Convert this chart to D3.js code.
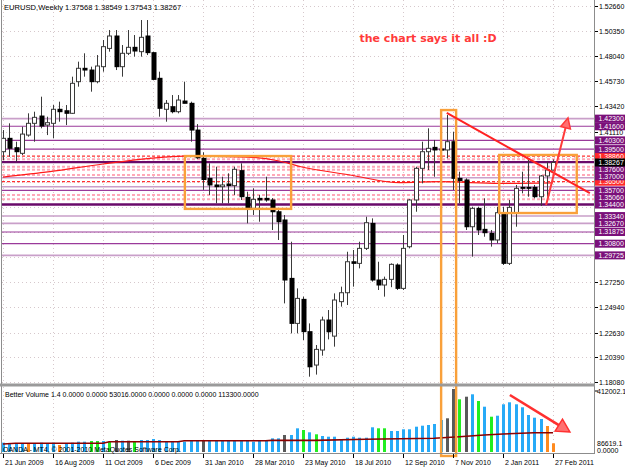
<!DOCTYPE html>
<html><head><meta charset="utf-8">
<script src="https://cdn.jsdelivr.net/npm/d3@7"></script>
<style>
body{margin:0;background:#fff}
svg{display:block}
text{font-family:"Liberation Sans",Arial,sans-serif}
</style>
</head><body>
<svg id="c" width="625" height="469"></svg>
<script>
// ---------------- DATA ----------------
const titleText = "EURUSD,Weekly  1.37568 1.38549 1.37543 1.38267";
const volTitle = "Better Volume 1.4 0.0000 0.0000 53016.0000 0.0000 0.0000 0.0000 113300.0000";
const copyright = "OANDA - MT4, \u00a9 2001-2010 MetaQuotes Software Corp.";
const noteText = "the chart says it all :D";

const open  = [1.3926,1.4049,1.3963,1.3911,1.4079,1.4187,1.4254,1.4171,1.4187,1.4316,
               1.4303,1.4279,1.4570,1.4693,1.4677,1.4570,1.4708,1.4876,1.4990,1.4708,
               1.4831,1.4886,1.4846,1.4990,1.4837,1.4601,1.4316,1.4340,1.4294,1.4392,
               1.4371,1.4125,1.3865,1.3681,1.3620,1.3604,1.3629,1.3614,1.3752,1.3506,
               1.3405,1.3497,1.3497,1.3482,1.3374,1.3298,1.2761,1.2347,1.2568,1.2271,
               1.1964,1.2102,1.2378,1.2230,1.2547,1.2629,1.2914,1.2899,1.3037,1.3267,
               1.2746,1.2700,1.2752,1.2884,1.2669,1.3052,1.3482,1.3773,1.3926,1.3966,
               1.3950,1.3942,1.4018,1.3681,1.3666,1.3236,1.3405,1.3212,1.3175,1.3114,
               1.3359,1.2899,1.3359,1.3598,1.3598,1.3598,1.3512,1.3703,1.37568];
const high  = [1.4125,1.4187,1.4018,1.4156,1.4279,1.4294,1.4432,1.4248,1.4355,1.4386,
               1.4355,1.4616,1.4754,1.4831,1.4708,1.4815,1.4953,1.5045,1.5045,1.4907,
               1.5045,1.4999,1.5137,1.5137,1.4846,1.4662,1.4401,1.4447,1.4447,1.4570,
               1.4386,1.4180,1.3920,1.3819,1.3788,1.3696,1.3727,1.3788,1.3819,1.3558,
               1.3589,1.3528,1.3696,1.3500,1.3390,1.3344,1.3098,1.2669,1.2593,1.2347,
               1.2148,1.2409,1.2470,1.2623,1.2685,1.3006,1.3022,1.3098,1.3328,1.3313,
               1.2914,1.2777,1.2899,1.2899,1.3160,1.3490,1.3788,1.4018,1.4141,1.4034,
               1.4030,1.4264,1.4110,1.3742,1.3681,1.3420,1.3420,1.3497,1.3206,1.3420,
               1.3420,1.3482,1.3620,1.3742,1.3850,1.3620,1.3712,1.3834,1.38549];
const low   = [1.3849,1.3880,1.3834,1.3895,1.4064,1.4018,1.4141,1.4079,1.4049,1.4202,
               1.4171,1.4273,1.4524,1.4616,1.4478,1.4555,1.4662,1.4846,1.4677,1.4616,
               1.4815,1.4800,1.4800,1.4815,1.4585,1.4248,1.4202,1.4279,1.4279,1.4371,
               1.4018,1.3860,1.3575,1.3528,1.3451,1.3451,1.3451,1.3528,1.3482,1.3267,
               1.3344,1.3282,1.3466,1.3206,1.3114,1.2531,1.2255,1.2255,1.2194,1.1857,
               1.1876,1.2050,1.2200,1.2133,1.2501,1.2516,1.2685,1.2853,1.3022,1.2731,
               1.2654,1.2593,1.2680,1.2654,1.2654,1.3037,1.3374,1.3635,1.3758,1.3696,
               1.3730,1.3865,1.3574,1.3451,1.3206,1.2961,1.3160,1.3144,1.3053,1.3083,
               1.2884,1.2884,1.3236,1.3543,1.3512,1.3497,1.3427,1.3512,1.37543];
const close = [1.4049,1.3957,1.3926,1.4088,1.4187,1.4242,1.4162,1.4193,1.4316,1.4294,
               1.4279,1.4555,1.4693,1.4677,1.4570,1.4714,1.4892,1.4990,1.4708,1.4831,
               1.4886,1.4852,1.4978,1.4837,1.4591,1.4325,1.4371,1.4294,1.4401,1.4371,
               1.4125,1.3870,1.3670,1.3620,1.3604,1.3620,1.3614,1.3764,1.3512,1.3405,
               1.3488,1.3482,1.3482,1.3374,1.3282,1.2746,1.2347,1.2577,1.2271,1.1948,
               1.2108,1.2378,1.2270,1.2562,1.2629,1.2914,1.2899,1.3037,1.3273,1.2746,
               1.2700,1.2752,1.2890,1.2669,1.3037,1.3482,1.3773,1.3926,1.3957,1.3942,
               1.3940,1.4018,1.3681,1.3660,1.3236,1.3405,1.3206,1.3181,1.3114,1.3365,
               1.2899,1.3414,1.3589,1.3589,1.3590,1.3512,1.3703,1.3758,1.38267];

const volume = [61040,52320,56680,56680,52320,56680,61040,56680,61040,45780,
                52320,61040,67580,67580,71940,71940,71940,67580,78480,74120,
                74120,71940,78480,78480,85000,78480,71940,67580,71940,67580,
                74120,74120,74120,74120,78480,74120,78480,74120,74120,74120,
                67580,74120,78480,89400,89400,111180,111180,154800,143880,128800,
                115760,104640,100060,100060,78480,93520,100060,93520,93520,161540,
                155000,155000,137340,137340,148460,148460,165460,172000,176580,183120,
                209280,220400,412000,344660,361660,377360,333540,296260,230860,237400,
                311960,325040,311960,292340,241980,224320,215820,170040,56900];
// b = normal (blue), g = green, k = churn (gray), o = low (orange)
const volType = ["b","b","b","b","o","b","b","b","b","o",
                 "b","b","b","b","g","g","b","g","k","b",
                 "k","g","b","b","b","b","b","b","b","b",
                 "b","b","k","b","b","b","b","b","b","b",
                 "b","b","b","b","b","k","b","b","g","b",
                 "g","b","b","b","b","b","b","b","b","b",
                 "g","g","b","b","b","b","b","b","b","b",
                 "b","k","k","g","k","b","g","b","g","b",
                 "b","b","b","b","b","b","b","o","o"];
const volMAIdx = [0,2,16,17,28,29,42,43,50,58,69,73,77,80,85,88];
const volMAVal = [52320,56900,56900,67360,67360,73900,73900,76000,76000,83060,89600,100060,111180,117720,126220,126220];

const maIdx = [0,7.5,16,23.5,29,39,44,47.5,55.5,63.5,70,79.5,88];
const maVal = [1.3693,1.3742,1.3813,1.3865,1.3886,1.3877,1.3843,1.3790,1.3712,1.3641,1.3650,1.3635,1.3640];

// price scale ticks; the ones drawn under a line tag are hidden in the picture
const priceTicks = [1.52660,1.50350,1.48040,1.45730,1.43420,1.41110,1.38800,1.36490,1.34180,1.31870,1.29560,1.27250,1.24940,1.22630,1.20390,1.18080];
const hiddenTickLabels = [1.38800,1.36490,1.34180,1.31870,1.29560];
const dateTicks = ["21 Jun 2009","16 Aug 2009","11 Oct 2009","6 Dec 2009","31 Jan 2010","28 Mar 2010","23 May 2010","18 Jul 2010","12 Sep 2010","7 Nov 2010","2 Jan 2011","27 Feb 2011"];

const levelsPurple = [1.4160,1.4030,1.3950,1.3570,1.31875,1.3080];
const levelsLight  = [1.4230,1.3687,1.3604,1.3334,1.3267,1.29725];
const levelsThick  = [1.3830,1.3440];
const levelsPink   = [1.3856,1.3788,1.3760,1.3712,1.3528,1.3488];
const levelsRed    = [1.3886,1.3650];

const labelPurple = [1.42300,1.41600,1.40300,1.39500,1.37600,1.37000,1.35700,1.35060,1.34400,1.33340,1.32670,1.31875,1.30800,1.29725];
const labelRed = [1.38860,1.36500];
const lastPrice = 1.38267;
const volMaxLabel = "412002.1";
const volMinLabels = ["0.0000","86619.1"];

// annotation anchors in data units (bar index, price / volume)
const box1 = {i0:29.1, i1:46.1, p0:1.3886, p1:1.3400};
const box2 = {i0:70.1, i1:72.5, p0:1.4309, v1:-26000};
const box3 = {i0:79.4, i1:91.8, p0:1.3896, p1:1.3362};
const trend = {i0:71.0, p0:1.4282, i1:93.9, p1:1.3546};
const upArrow = {i0:86.9, p0:1.3436, i1:90.4, p1:1.4236};
const volArrow = {i0:81.1, v0:372780, i1:90.7, v1:130800};
const noteAt = {i:68, p:1.4972};

// ---------------- CHART ----------------
const svg = d3.select("#c");
const W = 625, H = 469;
const plotR = 594;
const weeks = d3.range(open.length).map(i => d3.utcFormat("%-d %b %Y")(d3.utcDay.offset(new Date(Date.UTC(2009,5,21)), 7*i)));
const xi = d3.scaleLinear().domain([0, open.length-1]).range([3, 553]);
const xp = d3.scalePoint().domain(weeks).range([3, 553]);
const y = d3.scaleLinear().domain([1.18080, 1.52660]).range([382, 6]);
const yv = d3.scaleLinear().domain([0, 412002.1]).range([452, 389]);

svg.append("rect").attr("width",W).attr("height",H).attr("fill","#fff");

// grid
const grid = svg.append("g").attr("stroke","#d6c8cc").attr("stroke-dasharray","1,3").attr("stroke-width",1);
priceTicks.forEach(t => grid.append("line").attr("x1",2).attr("x2",plotR).attr("y1",Math.round(y(t))+0.5).attr("y2",Math.round(y(t))+0.5));
dateTicks.forEach(d => { const x = Math.round(xp(d))+0.5; grid.append("line").attr("x1",x).attr("x2",x).attr("y1",0).attr("y2",383);
  grid.append("line").attr("x1",x).attr("x2",x).attr("y1",387).attr("y2",453); });

// level lines
const lv = svg.append("g");
function hl(vals, color, w, dash){
  vals.forEach(v => { const yy = y(v);
    const l = lv.append("line").attr("x1",2).attr("x2",plotR).attr("y1",yy).attr("y2",yy)
      .attr("stroke",color).attr("stroke-width",w);
    if (dash) l.attr("stroke-dasharray",dash); });
}
hl(levelsLight, "#c99fc9", 1.6);
hl(levelsPurple, "#9a3a9a", 1.2);
hl(levelsPink, "#ffa8b8", 2, "3,2");
hl(levelsRed, "#ff3030", 1.2, "3,2");
hl(levelsThick, "#6a0a6a", 2.4);

// moving average
svg.append("path").datum(maIdx.map((d,k)=>[d,maVal[k]]))
  .attr("d", d3.line().x(d=>xi(d[0])).y(d=>y(d[1])).curve(d3.curveMonotoneX))
  .attr("fill","none").attr("stroke","#ff1a1a").attr("stroke-width",1.2);

// candles
const cg = svg.append("g");
weeks.forEach((w,i) => {
  const cx = Math.round(xp(w));
  cg.append("line").attr("x1",cx+0.5).attr("x2",cx+0.5).attr("y1",y(high[i])).attr("y2",y(low[i]))
    .attr("stroke","#3a3a3a").attr("stroke-width",1);
  const top = y(Math.max(open[i],close[i])), bot = y(Math.min(open[i],close[i]));
  const h = Math.max(1, bot-top);
  if (close[i] >= open[i]) {
    cg.append("rect").attr("x",cx-1.5).attr("y",top).attr("width",4).attr("height",Math.max(1,h))
      .attr("fill","#fff").attr("stroke","#3a3a3a").attr("stroke-width",1);
  } else {
    cg.append("rect").attr("x",cx-1.5).attr("y",top-0.5).attr("width",5).attr("height",h+1)
      .attr("fill","#000");
  }
});

// volume
const volColor = {b:"#27aaf7", g:"#22ee22", k:"#5a5a5a", o:"#ff8a1e"};
const vg = svg.append("g");
weeks.forEach((w,i) => {
  const cx = Math.round(xp(w));
  vg.append("rect").attr("x",cx-1).attr("y",yv(volume[i])).attr("width",3).attr("height",yv(0)-yv(volume[i]))
    .attr("fill",volColor[volType[i]]);
});
svg.append("path").datum(volMAIdx.map((d,k)=>[d,volMAVal[k]]))
  .attr("d", d3.line().x(d=>xi(d[0])).y(d=>yv(d[1])))
  .attr("fill","none").attr("stroke","#8b0000").attr("stroke-width",1.6);

// annotations
const orange = "#f9a03a";
svg.append("rect").attr("x",xi(box1.i0)).attr("y",y(box1.p0)).attr("width",xi(box1.i1)-xi(box1.i0)).attr("height",y(box1.p1)-y(box1.p0))
  .attr("fill","none").attr("stroke",orange).attr("stroke-width",2.4);
svg.append("rect").attr("x",xi(box2.i0)).attr("y",y(box2.p0)).attr("width",xi(box2.i1)-xi(box2.i0)).attr("height",yv(box2.v1)-y(box2.p0))
  .attr("fill","none").attr("stroke",orange).attr("stroke-width",2.4);
svg.append("rect").attr("x",xi(box3.i0)).attr("y",y(box3.p0)).attr("width",xi(box3.i1)-xi(box3.i0)).attr("height",y(box3.p1)-y(box3.p0))
  .attr("fill","none").attr("stroke",orange).attr("stroke-width",2.4);
svg.append("line").attr("x1",xi(trend.i0)).attr("y1",y(trend.p0)).attr("x2",xi(trend.i1)).attr("y2",y(trend.p1))
  .attr("stroke","#ff2222").attr("stroke-width",2);

function arrow(x0,y0,x1,y1,color,w,len,half){
  const a = Math.atan2(y1-y0,x1-x0);
  const bx = x1 - len*Math.cos(a), by = y1 - len*Math.sin(a);
  svg.append("line").attr("x1",x0).attr("y1",y0).attr("x2",bx).attr("y2",by).attr("stroke",color).attr("stroke-width",w);
  const px = -Math.sin(a), py = Math.cos(a);
  svg.append("path").attr("d",`M${x1},${y1}L${bx+px*half},${by+py*half}L${bx-px*half},${by-py*half}Z`)
    .attr("fill","#ff7070").attr("stroke",color).attr("stroke-width",1.5);
}
arrow(xi(upArrow.i0),y(upArrow.p0),xi(upArrow.i1),y(upArrow.p1),"#ff3a3a",2,10,5);
arrow(xi(volArrow.i0),yv(volArrow.v0),xi(volArrow.i1),yv(volArrow.v1),"#ff3030",2.6,13,7);

svg.append("text").attr("x",xi(noteAt.i)).attr("y",y(noteAt.p)).attr("dy","0.35em").attr("text-anchor","middle")
  .style("font-family","'DejaVu Sans',Verdana,sans-serif")
  .attr("font-size",11).attr("font-weight","bold").attr("fill","#ff3a3a").text(noteText);

// frames
const fr = svg.append("g").attr("stroke","#8c8c8c").attr("fill","none");
fr.append("line").attr("x1",1.5).attr("x2",1.5).attr("y1",0).attr("y2",454);
fr.append("line").attr("x1",plotR+0.5).attr("x2",plotR+0.5).attr("y1",0).attr("y2",454);
svg.append("rect").attr("x",0).attr("y",383.5).attr("width",plotR+1).attr("height",3).attr("fill","#9a9a9a");
fr.append("line").attr("x1",0).attr("x2",plotR+1).attr("y1",453.5).attr("y2",453.5);

// header texts
svg.append("text").attr("x",4).attr("y",9.5).attr("font-size",7.6).attr("fill","#000").text(titleText);
svg.append("text").attr("x",5).attr("y",396.5).attr("font-size",7).attr("fill","#000").text(volTitle);
svg.append("text").attr("x",3).attr("y",451.5).attr("font-size",7).attr("fill","#000").text(copyright);

// date axis
dateTicks.forEach(d => {
  const x = Math.round(xp(d))+0.5;
  svg.append("line").attr("x1",x).attr("x2",x).attr("y1",454).attr("y2",458).attr("stroke","#000");
  svg.append("text").attr("x",x+1.5).attr("y",465).attr("font-size",7).attr("fill","#000").text(d);
});

// price axis
const ax = svg.append("g");
priceTicks.forEach(t => {
  const yy = Math.round(y(t))+0.5;
  ax.append("line").attr("x1",plotR+1).attr("x2",plotR+4).attr("y1",yy).attr("y2",yy).attr("stroke","#000");
  if (!hiddenTickLabels.includes(t))
    ax.append("text").attr("x",599).attr("y",yy).attr("dy","0.35em").attr("font-size",7).attr("fill","#000").text(t.toFixed(5));
});
// volume axis labels
ax.append("line").attr("x1",plotR+1).attr("x2",plotR+4).attr("y1",yv(412002.1)+2).attr("y2",yv(412002.1)+2).attr("stroke","#000");
ax.append("text").attr("x",597).attr("y",yv(412002.1)+2.5).attr("dy","0.35em").attr("font-size",7).text(volMaxLabel);
ax.append("text").attr("x",597).attr("y",451).attr("dy","0.35em").attr("font-size",7).text(volMinLabels[0]);
ax.append("text").attr("x",597).attr("y",444).attr("dy","0.35em").attr("font-size",7).text(volMinLabels[1]);

// price labels of level lines
function tag(v, bg, txt){
  const yy = y(v);
  ax.append("rect").attr("x",595).attr("y",yy-4).attr("width",30).attr("height",8).attr("fill",bg);
  ax.append("text").attr("x",598.5).attr("y",yy).attr("dy","0.35em").attr("font-size",7).attr("fill","#fff").text(txt);
}
labelRed.forEach(v => tag(v, "#ff2a2a", v.toFixed(5)));
labelPurple.forEach(v => tag(v, "#7a107a", v.toFixed(5)));
tag(lastPrice, "#000", lastPrice.toFixed(5));
</script>
</body></html>
